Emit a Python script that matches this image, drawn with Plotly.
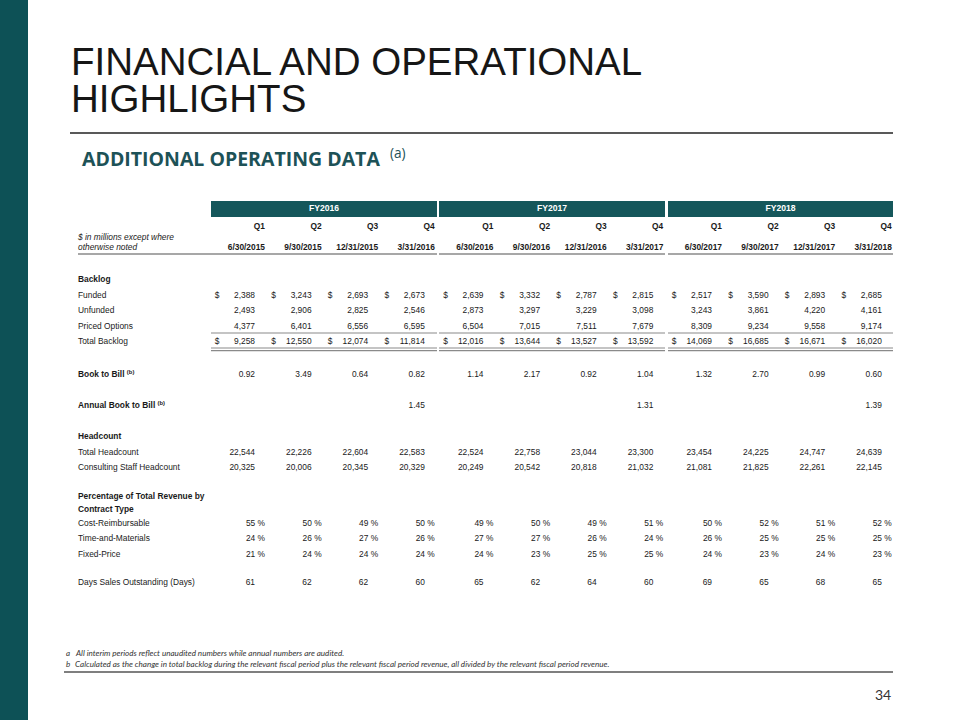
import plotly.graph_objects as go

# ---------------- data ----------------
fiscal_years = ["FY2016", "FY2017", "FY2018"]
quarters = ["Q1", "Q2", "Q3", "Q4"] * 3
period_end = ["6/30/2015", "9/30/2015", "12/31/2015", "3/31/2016",
              "6/30/2016", "9/30/2016", "12/31/2016", "3/31/2017",
              "6/30/2017", "9/30/2017", "12/31/2017", "3/31/2018"]
funded = [2388, 3243, 2693, 2673, 2639, 3332, 2787, 2815, 2517, 3590, 2893, 2685]
unfunded = [2493, 2906, 2825, 2546, 2873, 3297, 3229, 3098, 3243, 3861, 4220, 4161]
priced_options = [4377, 6401, 6556, 6595, 6504, 7015, 7511, 7679, 8309, 9234, 9558, 9174]
total_backlog = [9258, 12550, 12074, 11814, 12016, 13644, 13527, 13592, 14069, 16685, 16671, 16020]
book_to_bill = [0.92, 3.49, 0.64, 0.82, 1.14, 2.17, 0.92, 1.04, 1.32, 2.70, 0.99, 0.60]
annual_book_to_bill = [None, None, None, 1.45, None, None, None, 1.31, None, None, None, 1.39]
total_headcount = [22544, 22226, 22604, 22583, 22524, 22758, 23044, 23300, 23454, 24225, 24747, 24639]
consulting_headcount = [20325, 20006, 20345, 20329, 20249, 20542, 20818, 21032, 21081, 21825, 22261, 22145]
cost_reimbursable = [55, 50, 49, 50, 49, 50, 49, 51, 50, 52, 51, 52]
time_and_materials = [24, 26, 27, 26, 27, 27, 26, 24, 26, 25, 25, 25]
fixed_price = [21, 24, 24, 24, 24, 23, 25, 25, 24, 23, 24, 23]
days_sales_outstanding = [61, 62, 62, 60, 65, 62, 64, 60, 69, 65, 68, 65]

title_lines = ["FINANCIAL AND OPERATIONAL", "HIGHLIGHTS"]
subtitle = "ADDITIONAL OPERATING DATA"
footnotes = [("a", "All interim periods reflect unaudited numbers while annual numbers are audited."),
             ("b", "Calculated as the change in total backlog during the relevant fiscal period plus the relevant fiscal period revenue, all divided by the relevant fiscal period revenue.")]
page_number = "34"

# ---------------- layout helpers ----------------
TEAL = "#0D5156"
BAR_TEAL = "#15575B"
TXT = "#1a1a1a"
RULE = "#8a8a8a"
TFONT = "Liberation Sans, Arial, sans-serif"
FS = 8.4

n = len(quarters)
col_right = [265 + 56.6 * (i % 4) + 228.5 * (i // 4) for i in range(n)]
group_span = [(211, 437), (439, 665), (668, 893)]
label_x = 78

row_y = {
    "fy": 209, "q": 227, "note1": 238, "date": 248, "hdrline": 254,
    "backlog": 280, "funded": 296, "unfunded": 311, "priced": 327, "subtotal": 333,
    "total": 342, "dbl1": 348, "dbl2": 350.6,
    "btb": 375, "abtb": 406, "headcount": 437, "th": 453, "ch": 468,
    "pct1": 497, "pct2": 510, "cr": 524, "tm": 539, "fp": 555, "dso": 583,
}

fig = go.Figure()


def text_trace(xs, ys, texts, pos="middle left", bold=False, italic=False, color=TXT, size=FS, family=TFONT):
    fig.add_trace(go.Scatter(
        x=xs, y=ys, text=list(texts),
        mode="text", textposition=pos, hoverinfo="skip", showlegend=False,
        textfont=dict(family=family, size=size, color=color,
                      weight="bold" if bold else "normal",
                      style="italic" if italic else "normal"),
    ))


def num_row(values, key, fmt, offset=10, pct=False):
    xs, ys, ts = [], [], []
    for i, v in enumerate(values):
        if v is None:
            continue
        xs.append(col_right[i] - (0 if pct else offset))
        ys.append(row_y[key])
        ts.append(fmt(v) + (" %" if pct else ""))
    text_trace(xs, ys, ts)


def dollar_row(key):
    text_trace([c - 48 for c in col_right], [row_y[key]] * n, ["$"] * n, pos="middle center")


# header
text_trace([(a + b) / 2 for a, b in group_span], [row_y["fy"]] * 3, fiscal_years,
           pos="middle center", bold=True, color="white", size=8.6)
text_trace(col_right, [row_y["q"]] * n, quarters, bold=True)
text_trace(col_right, [row_y["date"]] * n, period_end, bold=True)
text_trace([label_x, label_x], [row_y["note1"], row_y["date"]],
           ["$ in millions except where", "otherwise noted"], pos="middle right", italic=True)

# labels
bold_labels = [("backlog", "Backlog"), ("headcount", "Headcount"),
               ("pct1", "Percentage of Total Revenue by"), ("pct2", "Contract Type")]
text_trace([label_x] * len(bold_labels), [row_y[k] for k, _ in bold_labels],
           [t for _, t in bold_labels], pos="middle right", bold=True)
for key, lab in [("btb", "Book to Bill"), ("abtb", "Annual Book to Bill")]:
    text_trace([label_x], [row_y[key]], [lab + " <sup>(b)</sup>"], pos="middle right", bold=True)
plain_labels = [("funded", "Funded"), ("unfunded", "Unfunded"), ("priced", "Priced Options"),
                ("total", "Total Backlog"), ("th", "Total Headcount"),
                ("ch", "Consulting Staff Headcount"), ("cr", "Cost-Reimbursable"),
                ("tm", "Time-and-Materials"), ("fp", "Fixed-Price"),
                ("dso", "Days Sales Outstanding (Days)")]
text_trace([label_x] * len(plain_labels), [row_y[k] for k, _ in plain_labels],
           [t for _, t in plain_labels], pos="middle right")

# numbers
intfmt = lambda v: f"{v:,}"
dec = lambda v: f"{v:.2f}"
num_row(funded, "funded", intfmt)
num_row(unfunded, "unfunded", intfmt)
num_row(priced_options, "priced", intfmt)
num_row(total_backlog, "total", intfmt)
dollar_row("funded")
dollar_row("total")
num_row(book_to_bill, "btb", dec)
num_row(annual_book_to_bill, "abtb", dec)
num_row(total_headcount, "th", intfmt)
num_row(consulting_headcount, "ch", intfmt)
num_row(cost_reimbursable, "cr", str, pct=True)
num_row(time_and_materials, "tm", str, pct=True)
num_row(fixed_price, "fp", str, pct=True)
num_row(days_sales_outstanding, "dso", str)

# ---------------- shapes ----------------
shapes = []
shapes.append(dict(type="rect", x0=0, x1=28, y0=0, y1=720, fillcolor=TEAL, line_width=0, layer="below"))
shapes.append(dict(type="line", x0=70, x1=893, y0=133, y1=133, line=dict(color="#222", width=1.5)))
for gi, (a, b) in enumerate(group_span):
    shapes.append(dict(type="rect", x0=a, x1=b, y0=201, y1=217, fillcolor=BAR_TEAL, line_width=0, layer="below"))
    shapes.append(dict(type="line", x0=(label_x if gi == 0 else a), x1=b, y0=row_y["hdrline"], y1=row_y["hdrline"],
                       line=dict(color=RULE, width=1.6)))
    for key in ("subtotal", "dbl1", "dbl2"):
        shapes.append(dict(type="line", x0=a, x1=b, y0=row_y[key], y1=row_y[key],
                           line=dict(color=RULE, width=1.2)))
shapes.append(dict(type="line", x0=64, x1=893, y0=672, y1=672, line=dict(color="#555", width=1.5)))

# ---------------- annotations ----------------
ann = []
for i, line in enumerate(title_lines):
    ann.append(dict(x=69, y=61 + 37 * i, text=line, xanchor="left", yanchor="middle", showarrow=False,
                    height=34, valign="middle",
                    font=dict(family="Liberation Sans, Arial", size=38.5, color="#161616")))
ann.append(dict(x=80, y=157, text="<b>" + subtitle + "</b>  <sup>(a)</sup>", xanchor="left", yanchor="middle",
                showarrow=False, font=dict(family="Open Sans", size=19.5, color="#1D5257")))
for i, (k, t) in enumerate(footnotes):
    yy = 653 + 11 * i
    ann.append(dict(x=64, y=yy, text=k, xanchor="left", yanchor="middle", showarrow=False,
                    font=dict(family="Lato", size=8, color="#333", style="italic")))
    ann.append(dict(x=73, y=yy, text=t, xanchor="left", yanchor="middle", showarrow=False,
                    font=dict(family="Lato", size=8.1, color="#333", style="italic")))
ann.append(dict(x=893, y=694, text=page_number, xanchor="right", yanchor="middle", showarrow=False,
                font=dict(family="Lato", size=14, color="#333")))

fig.update_layout(
    width=960, height=720, margin=dict(l=0, r=0, t=0, b=0),
    paper_bgcolor="white", plot_bgcolor="white",
    xaxis=dict(range=[0, 960], visible=False, fixedrange=True),
    yaxis=dict(range=[720, 0], visible=False, fixedrange=True),
    shapes=shapes, annotations=ann, showlegend=False,
)

fig.write_html("out.html", config={"displayModeBar": False, "staticPlot": True},
               post_script="document.body.style.margin='0';")
